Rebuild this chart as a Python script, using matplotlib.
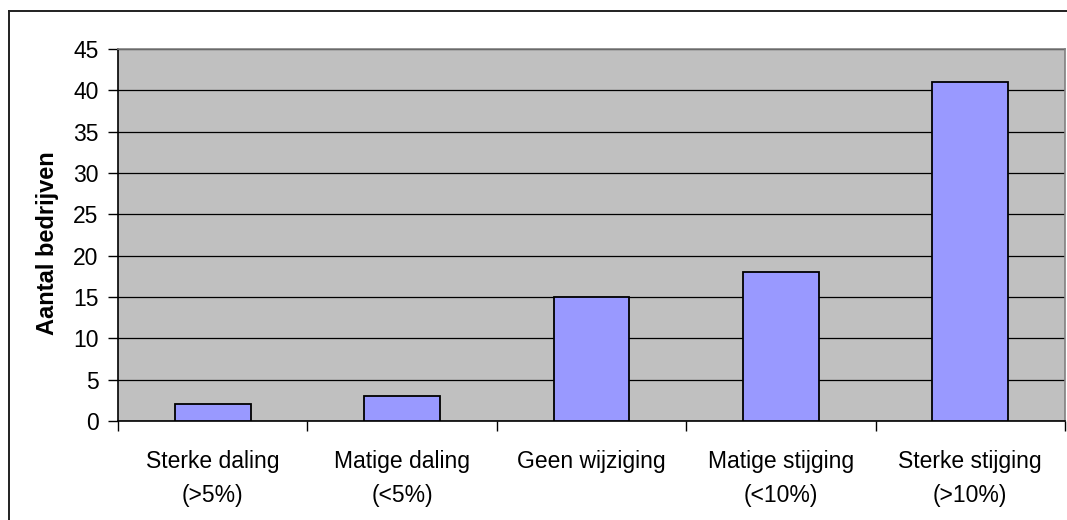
import matplotlib
matplotlib.use("Agg")
import matplotlib.pyplot as plt
from matplotlib.lines import Line2D

categories = ["Sterke daling\n(>5%)", "Matige daling\n(<5%)", "Geen wijziging",
              "Matige stijging\n(<10%)", "Sterke stijging\n(>10%)"]
values = [2, 3, 15, 18, 41]
yticks = [0, 5, 10, 15, 20, 25, 30, 35, 40, 45]
ylabel = "Aantal bedrijven"

plt.rcParams['font.family'] = ['Liberation Sans', 'DejaVu Sans']

W, H = 1067, 520
fig = plt.figure(figsize=(W / 100, H / 100), dpi=100)
fig.patch.set_facecolor("white")

# outer chart frame (cropped at right and bottom)
fig.add_artist(Line2D([8.5 / W, 8.5 / W], [0, 1 - 10.5 / H], transform=fig.transFigure,
                      color="#202020", lw=1.4))
fig.add_artist(Line2D([8.5 / W, 1], [1 - 10.5 / H, 1 - 10.5 / H], transform=fig.transFigure,
                      color="#202020", lw=1.4))

left, right, top, bottom = 118, 1065, 49, 421
ax = fig.add_axes([left / W, 1 - bottom / H, (right - left) / W, (bottom - top) / H])
ax.set_facecolor("#C0C0C0")

x = list(range(len(categories)))
ax.bar(x, values, width=0.4, color="#9999FF", edgecolor="black", linewidth=1.3, zorder=3)

ax.set_xlim(-0.5, len(categories) - 0.5)
ax.set_ylim(0, 45)
ax.set_yticks(yticks)
ax.set_yticklabels([str(v) for v in yticks], fontsize=16.5)
ax.yaxis.grid(True, color="black", linewidth=0.9, zorder=1)
ax.set_axisbelow(True)

# x ticks at category boundaries, labels at centers
ax.set_xticks([i - 0.5 for i in range(len(categories) + 1)])
ax.set_xticklabels([])
ax.set_xticks(x, minor=True)
ax.set_xticklabels(categories, minor=True, fontsize=16.5, linespacing=1.6, va="top")
ax.tick_params(axis="x", which="minor", length=0, pad=21)
ax.tick_params(axis="x", which="major", length=7, width=1, color="black", direction="out")
ax.tick_params(axis="y", length=7, width=1, color="black", direction="out", pad=7)

for side in ["top", "right"]:
    ax.spines[side].set_color("#808080")
    ax.spines[side].set_linewidth(1.2)
for side in ["left", "bottom"]:
    ax.spines[side].set_color("black")
    ax.spines[side].set_linewidth(1.2)

ax.set_ylabel(ylabel, fontsize=17, fontweight="bold")
ax.yaxis.set_label_coords(-0.062, 0.478)

fig.savefig("out.png", dpi=100)
